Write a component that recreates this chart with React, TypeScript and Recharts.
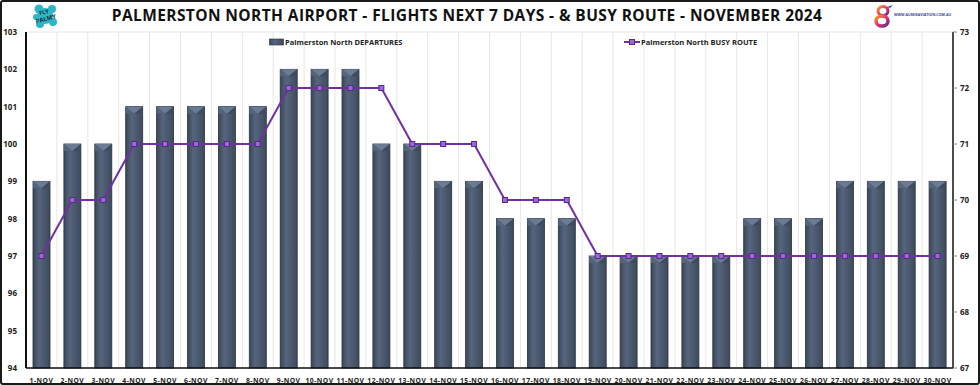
import React from 'react';
import {
  ComposedChart,
  Bar,
  Line,
  XAxis,
  YAxis,
  CartesianGrid,
} from 'recharts';

const days = [
  '1-NOV', '2-NOV', '3-NOV', '4-NOV', '5-NOV', '6-NOV', '7-NOV', '8-NOV', '9-NOV', '10-NOV',
  '11-NOV', '12-NOV', '13-NOV', '14-NOV', '15-NOV', '16-NOV', '17-NOV', '18-NOV', '19-NOV', '20-NOV',
  '21-NOV', '22-NOV', '23-NOV', '24-NOV', '25-NOV', '26-NOV', '27-NOV', '28-NOV', '29-NOV', '30-NOV',
];
const departures = [99, 100, 100, 101, 101, 101, 101, 101, 102, 102, 102, 100, 100, 99, 99, 98, 98, 98, 97, 97, 97, 97, 97, 98, 98, 98, 99, 99, 99, 99];
const busyRoute = [69, 70, 70, 71, 71, 71, 71, 71, 72, 72, 72, 72, 71, 71, 71, 70, 70, 70, 69, 69, 69, 69, 69, 69, 69, 69, 69, 69, 69, 69];
const leftTicks = [94, 95, 96, 97, 98, 99, 100, 101, 102, 103];
const rightTicks = [67, 68, 69, 70, 71, 72, 73];

const data = days.map((day, i) => ({ day, departures: departures[i], busy: busyRoute[i] }));

const FONT = '"Open Sans", "Noto Sans", sans-serif';

function BevelBar(props: any) {
  const { x, y, width, height } = props;
  if (height <= 0) return null;
  const b = Math.min(7, height);
  return (
    <g>
      <rect x={x} y={y} width={width} height={height} fill="url(#barGrad)" stroke="#26313f" strokeWidth={0.8} />
      <polygon points={`${x},${y} ${x + width},${y} ${x + width / 2},${y + b}`} fill="#6b7b94" />
      <polygon points={`${x},${y} ${x + width / 2},${y + b} ${x},${y + b}`} fill="#55647b" />
      <polygon points={`${x + width},${y} ${x + width / 2},${y + b} ${x + width},${y + b}`} fill="#3f4b5e" />
    </g>
  );
}

function SquareDot(props: any) {
  const { cx, cy } = props;
  if (cx == null || cy == null) return null;
  return <rect x={cx - 2.5} y={cy - 2.5} width={5} height={5} fill="#9a6ad0" stroke="#5a2590" strokeWidth={1} />;
}

function XTick(props: any) {
  const { x, y, payload } = props;
  return (
    <text x={x} y={y + 7} textAnchor="middle" fontSize={6.8} fontWeight={700} fill="#222" fontFamily={FONT} letterSpacing={0.45}>
      {payload.value}
    </text>
  );
}

function ChartLegend() {
  const txt = { fontSize: 7.5, fontWeight: 700, color: '#222', fontFamily: FONT } as React.CSSProperties;
  return (
    <div style={{ position: 'absolute', left: 0, top: 37, width: 980, height: 12, zIndex: 2 }}>
      <div style={{ position: 'absolute', left: 269, top: 0, display: 'flex', alignItems: 'center' }}>
        <svg width={15} height={8}>
          <defs>
            <linearGradient id="legGrad" x1="0" y1="0" x2="1" y2="0">
              <stop offset="0%" stopColor="#3b4759" />
              <stop offset="35%" stopColor="#56657d" />
              <stop offset="100%" stopColor="#3e4a5d" />
            </linearGradient>
          </defs>
          <rect x={0.5} y={1} width={14} height={6} fill="url(#legGrad)" stroke="#26313f" strokeWidth={0.6} />
        </svg>
        <span style={{ ...txt, marginLeft: 1 }}>Palmerston North DEPARTURES</span>
      </div>
      <div style={{ position: 'absolute', left: 624, top: 0, display: 'flex', alignItems: 'center' }}>
        <svg width={16} height={8}>
          <line x1={0} y1={4} x2={16} y2={4} stroke="#7030a0" strokeWidth={2} />
          <rect x={5.5} y={1.5} width={5} height={5} fill="#9a6ad0" stroke="#5a2590" strokeWidth={1} />
        </svg>
        <span style={{ ...txt, marginLeft: 1 }}>Palmerston North BUSY ROUTE</span>
      </div>
    </div>
  );
}

function FlyPalmyLogo() {
  return (
    <svg width={26} height={26} style={{ position: 'absolute', left: 32, top: 3, zIndex: 2 }}>
      <g fill="#2bb7c4">
        <circle cx={13} cy={13} r={8} />
        <circle cx={7} cy={6} r={4.5} />
        <circle cx={20} cy={6} r={4} />
        <circle cx={21} cy={19} r={4} />
        <circle cx={8} cy={21} r={4} />
        <circle cx={4} cy={14} r={3} />
      </g>
      <text x={13} y={11} textAnchor="middle" fontSize={5.5} fontWeight={700} fill="#1d2a44" fontFamily={FONT} transform="rotate(-15 13 13)">FLY</text>
      <text x={13} y={18} textAnchor="middle" fontSize={6} fontWeight={700} fill="#1d2a44" fontFamily={FONT} transform="rotate(-15 13 13)">PALMY</text>
    </svg>
  );
}

function AussieLogo() {
  return (
    <div style={{ position: 'absolute', left: 873, top: 4, display: 'flex', alignItems: 'center', zIndex: 2 }}>
      <svg width={20} height={24}>
        <defs>
          <linearGradient id="logoGrad" x1="0" y1="0" x2="1" y2="1">
            <stop offset="0%" stopColor="#f39c1f" />
            <stop offset="50%" stopColor="#e8336d" />
            <stop offset="100%" stopColor="#5b2a8c" />
          </linearGradient>
        </defs>
        <ellipse cx={10} cy={7} rx={5} ry={4.5} fill="none" stroke="url(#logoGrad)" strokeWidth={3} />
        <ellipse cx={9} cy={17} rx={6} ry={5} fill="none" stroke="url(#logoGrad)" strokeWidth={3.5} />
        <path d="M14 3 L20 1 L17 4 Z" fill="#3b3f99" />
      </svg>
      <span style={{ fontSize: 3.6, fontWeight: 700, color: '#3b3f99', fontFamily: FONT, marginLeft: 1, marginTop: -4 }}>
        WWW.AUSSIEAVIATION.COM.AU
      </span>
    </div>
  );
}

export default function App() {
  return (
    <div
      style={{
        position: 'absolute',
        left: 0,
        top: 0,
        width: 980,
        height: 385,
        background: '#fff',
        overflow: 'hidden',
      }}
    >
      <div
        style={{
          position: 'absolute',
          left: 0,
          top: 0,
          width: 980,
          height: 385,
          boxSizing: 'border-box',
          border: '2px solid #1a1a1a',
          borderRadius: 3,
          pointerEvents: 'none',
          zIndex: 3,
        }}
      />
      <div
        style={{
          position: 'absolute',
          left: 0,
          width: 934,
          top: 4,
          textAlign: 'center',
          fontFamily: FONT,
          fontWeight: 700,
          fontSize: 15.5,
          letterSpacing: 0.4,
          color: '#111',
          zIndex: 2,
        }}
      >
        PALMERSTON NORTH AIRPORT - FLIGHTS NEXT 7 DAYS - &amp; BUSY ROUTE - NOVEMBER 2024
      </div>
      <FlyPalmyLogo />
      <AussieLogo />
      <ChartLegend />
      <ComposedChart
        width={980}
        height={385}
        data={data}
        margin={{ top: 32, right: 0, left: 0, bottom: 0 }}
        style={{ fontFamily: FONT }}
      >
        <defs>
          <linearGradient id="barGrad" x1="0" y1="0" x2="1" y2="0">
            <stop offset="0%" stopColor="#3b4759" />
            <stop offset="35%" stopColor="#56657d" />
            <stop offset="100%" stopColor="#3e4a5d" />
          </linearGradient>
        </defs>
        <CartesianGrid
          stroke="#e6e6e6"
          strokeWidth={1}
          verticalCoordinatesGenerator={({ offset }: any) =>
            days.slice(1).map((_, i) => offset.left + ((i + 1) * offset.width) / days.length)
          }
        />
        <XAxis
          dataKey="day"
          xAxisId="main"
          height={17}
          interval={0}
          tickLine={false}
          axisLine={{ stroke: '#111', strokeWidth: 1.5 }}
          tick={<XTick />}
        />
        <XAxis
          dataKey="day"
          xAxisId="top"
          orientation="top"
          height={0}
          tick={false}
          tickLine={false}
          axisLine={{ stroke: '#111', strokeWidth: 1.5 }}
        />
        <YAxis
          yAxisId="left"
          width={26}
          domain={[94, 103]}
          ticks={leftTicks}
          interval={0}
          tickLine={false}
          axisLine={{ stroke: '#111', strokeWidth: 2 }}
          tickMargin={3}
          tick={{ fontSize: 8, fontWeight: 700, fill: '#222' }}
        />
        <YAxis
          yAxisId="right"
          orientation="right"
          width={27}
          domain={[67, 73]}
          ticks={rightTicks}
          interval={0}
          tickSize={4}
          tickLine={{ stroke: '#888' }}
          axisLine={{ stroke: '#111', strokeWidth: 1.5 }}
          tickMargin={3}
          tick={{ fontSize: 8, fontWeight: 700, fill: '#222' }}
        />
        <Bar
          dataKey="departures"
          name="Palmerston North DEPARTURES"
          xAxisId="main"
          yAxisId="left"
          barSize={17}
          shape={<BevelBar />}
          isAnimationActive={false}
        />
        <Line
          dataKey="busy"
          name="Palmerston North BUSY ROUTE"
          xAxisId="main"
          yAxisId="right"
          stroke="#7030a0"
          strokeWidth={2}
          dot={<SquareDot />}
          activeDot={false}
          isAnimationActive={false}
        />
      </ComposedChart>
    </div>
  );
}
